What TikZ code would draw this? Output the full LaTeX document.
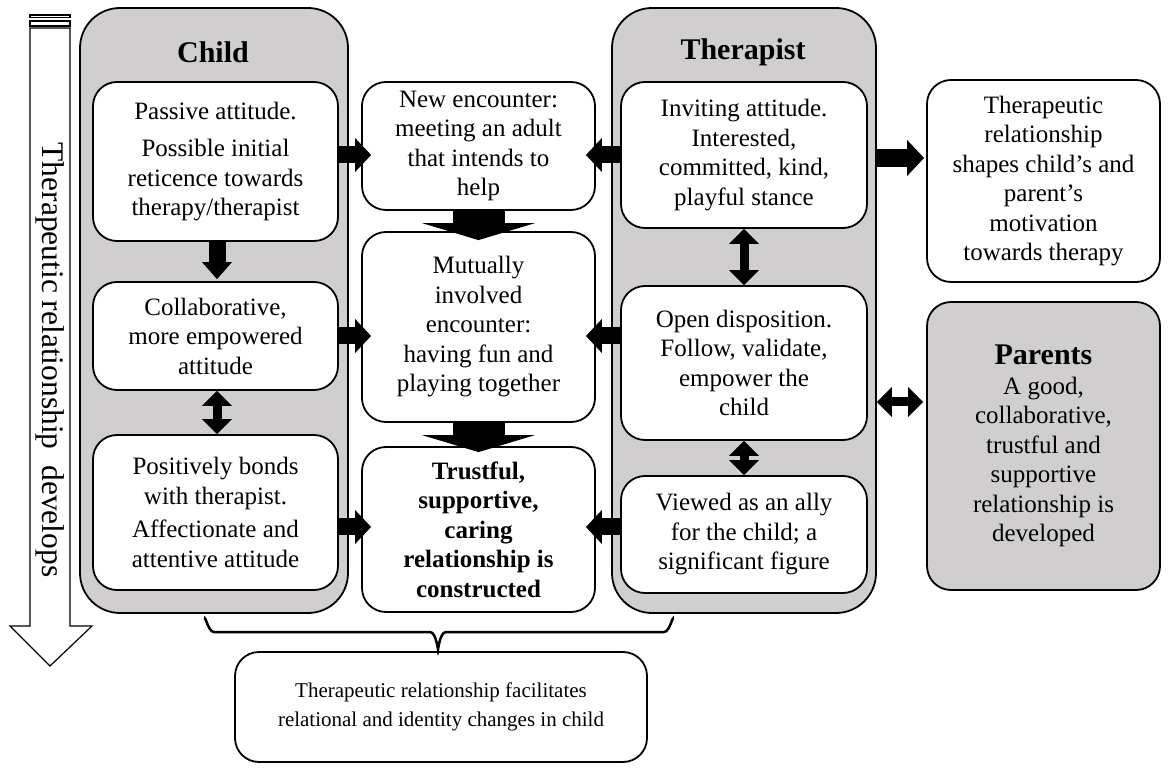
\documentclass[tikz,border=0pt]{standalone}
\usepackage{fontspec}
\setmainfont{Liberation Serif}
\usetikzlibrary{arrows.meta,calc}
\definecolor{panelgray}{RGB}{208,206,206}
\begin{document}
\begin{tikzpicture}[x=1pt,y=-1pt,
  every node/.style={font=\fontsize{25}{29.5}\selectfont},
  panel/.style={draw,line width=1.8pt,fill=panelgray,rounded corners=40pt,inner sep=0pt},
  bx/.style={draw,line width=1.8pt,fill=white,rounded corners=24pt,align=center,inner sep=0pt},
  gbx/.style={bx,fill=panelgray},
  ttl/.style={font=\fontsize{30}{34}\bfseries\selectfont},
  fat/.style={line width=17pt,-{Triangle[width=34pt,length=16pt,line width=0pt]}},
  fatv/.style={line width=17pt,-{Triangle[width=30pt,length=17pt,line width=0pt]}},
  dbl/.style={line width=9pt,{Triangle[width=30pt,length=15pt,line width=0pt]}-{Triangle[width=30pt,length=15pt,line width=0pt]}},
  big/.style={line width=52pt,-{Triangle[width=113pt,length=17pt,line width=0pt]}},
]
\useasboundingbox (0,0) rectangle (1171,775);

% left development arrow
\draw[line width=1.2pt,fill=white] (30,28) -- (70,28) -- (70,626) -- (92,626) -- (50,666) -- (10,626) -- (30,626) -- cycle;
\draw[line width=1.2pt,fill=white] (30,15) rectangle (70,17.5);
\draw[line width=1.2pt,fill=white] (30,21) rectangle (70,26);
\node[rotate=-90,font=\fontsize{31.5}{34}\selectfont] (dev) at (50,360) {Therapeutic relationship\ \ develops};

% panels
\node[panel,minimum width=268pt,minimum height=605pt] (cp) at (214,310.5) {};
\node[ttl] (ct) at (213,52) {Child};
\node[panel,minimum width=264pt,minimum height=605pt] (tp) at (744,310.5) {};
\node[ttl] (tt) at (743,52) {Therapist};

% child boxes
\node[bx,minimum width=245pt,minimum height=159pt] (c1) at (215.5,161.5) {Passive attitude.\\[8pt]Possible initial\\reticence towards\\therapy/therapist};
\node[bx,minimum width=245pt,minimum height=108pt] (c2) at (215.5,336) {Collaborative,\\more empowered\\attitude};
\node[bx,minimum width=245pt,minimum height=155pt] (c3) at (215.5,512.5) {Positively bonds\\with therapist.\\[4pt]Affectionate and\\attentive attitude};

% middle boxes
\node[bx,minimum width=233pt,minimum height=128pt] (ne) at (478.5,146) {New encounter:\\meeting an adult\\that intends to\\help};
\node[bx,minimum width=233pt,minimum height=190pt] (mu) at (478.5,327) {Mutually\\involved\\encounter:\\having fun and\\playing together};
\node[bx,minimum width=233pt,minimum height=165pt,font=\fontsize{25}{29.5}\bfseries\selectfont] (tr) at (478.5,529.5) {Trustful,\\supportive,\\caring\\relationship is\\constructed};

% therapist boxes
\node[bx,minimum width=246pt,minimum height=146pt] (t1) at (744,155) {Inviting attitude.\\Interested,\\committed, kind,\\playful stance};
\node[bx,minimum width=246pt,minimum height=154pt] (t2) at (744,363) {Open disposition.\\Follow, validate,\\empower the\\child};
\node[bx,minimum width=246pt,minimum height=117pt] (t3) at (744,534.5) {Viewed as an ally\\for the child; a\\significant figure};

% right boxes
\node[bx,minimum width=233pt,minimum height=202pt] (rb) at (1043.5,181) {Therapeutic\\relationship\\shapes child's and\\parent's\\motivation\\towards therapy};
\node[gbx,minimum width=233pt,minimum height=288pt] (pa) at (1043.5,446) {{\fontsize{30}{34}\bfseries\selectfont Parents}\\A good,\\collaborative,\\trustful and\\supportive\\relationship is\\developed};

% bottom box
\node[bx,minimum width=412pt,minimum height=110pt,font=\fontsize{21}{29}\selectfont] (bt) at (441,707) {Therapeutic relationship facilitates\\relational and identity changes in child};

% horizontal arrows
\draw[fat] (c1.east |- 0,155) -- ($(ne.west |- 0,155)+(10,0)$);
\draw[fat] (t1.west |- 0,155) -- ($(ne.east |- 0,155)+(-10,0)$);
\draw[fat] (c2.east |- 0,336) -- ($(mu.west |- 0,336)+(10,0)$);
\draw[fat] (t2.west |- 0,336) -- ($(mu.east |- 0,336)+(-10,0)$);
\draw[fat] (c3.east |- 0,527) -- ($(tr.west |- 0,527)+(10,0)$);
\draw[fat] (t3.west |- 0,527) -- ($(tr.east |- 0,527)+(-10,0)$);
\draw[line width=18pt,-{Triangle[width=36pt,length=17pt,line width=0pt]}] (tp.east |- 0,158) -- ($(rb.west |- 0,158)+(-2,0)$);
\draw[dbl] (tp.east |- 0,402) -- ($(pa.west |- 0,402)+(-3,0)$);

% vertical arrows
\draw[fatv] (c1.south -| 217,0) -- ($(c2.north -| 217,0)+(0,-2)$);
\draw[dbl] (c2.south -| 217,0) -- (c3.north -| 217,0);
\draw[dbl] (t1.south) -- (t2.north);
\draw[dbl] (t2.south) -- (t3.north);
\draw[big] (ne.south) -- ($(mu.north)+(0,9)$);
\draw[big] (mu.south) -- ($(tr.north)+(0,6)$);

% brace
\draw[line width=2.5pt] (205,620) to[out=90,in=180] (214,632) -- (430,632) to[out=0,in=-90] (438,647);
\draw[line width=2.5pt] (438,647) to[out=-90,in=180] (446,632) -- (664,632) to[out=0,in=90] (673,620);
\end{tikzpicture}
\end{document}
